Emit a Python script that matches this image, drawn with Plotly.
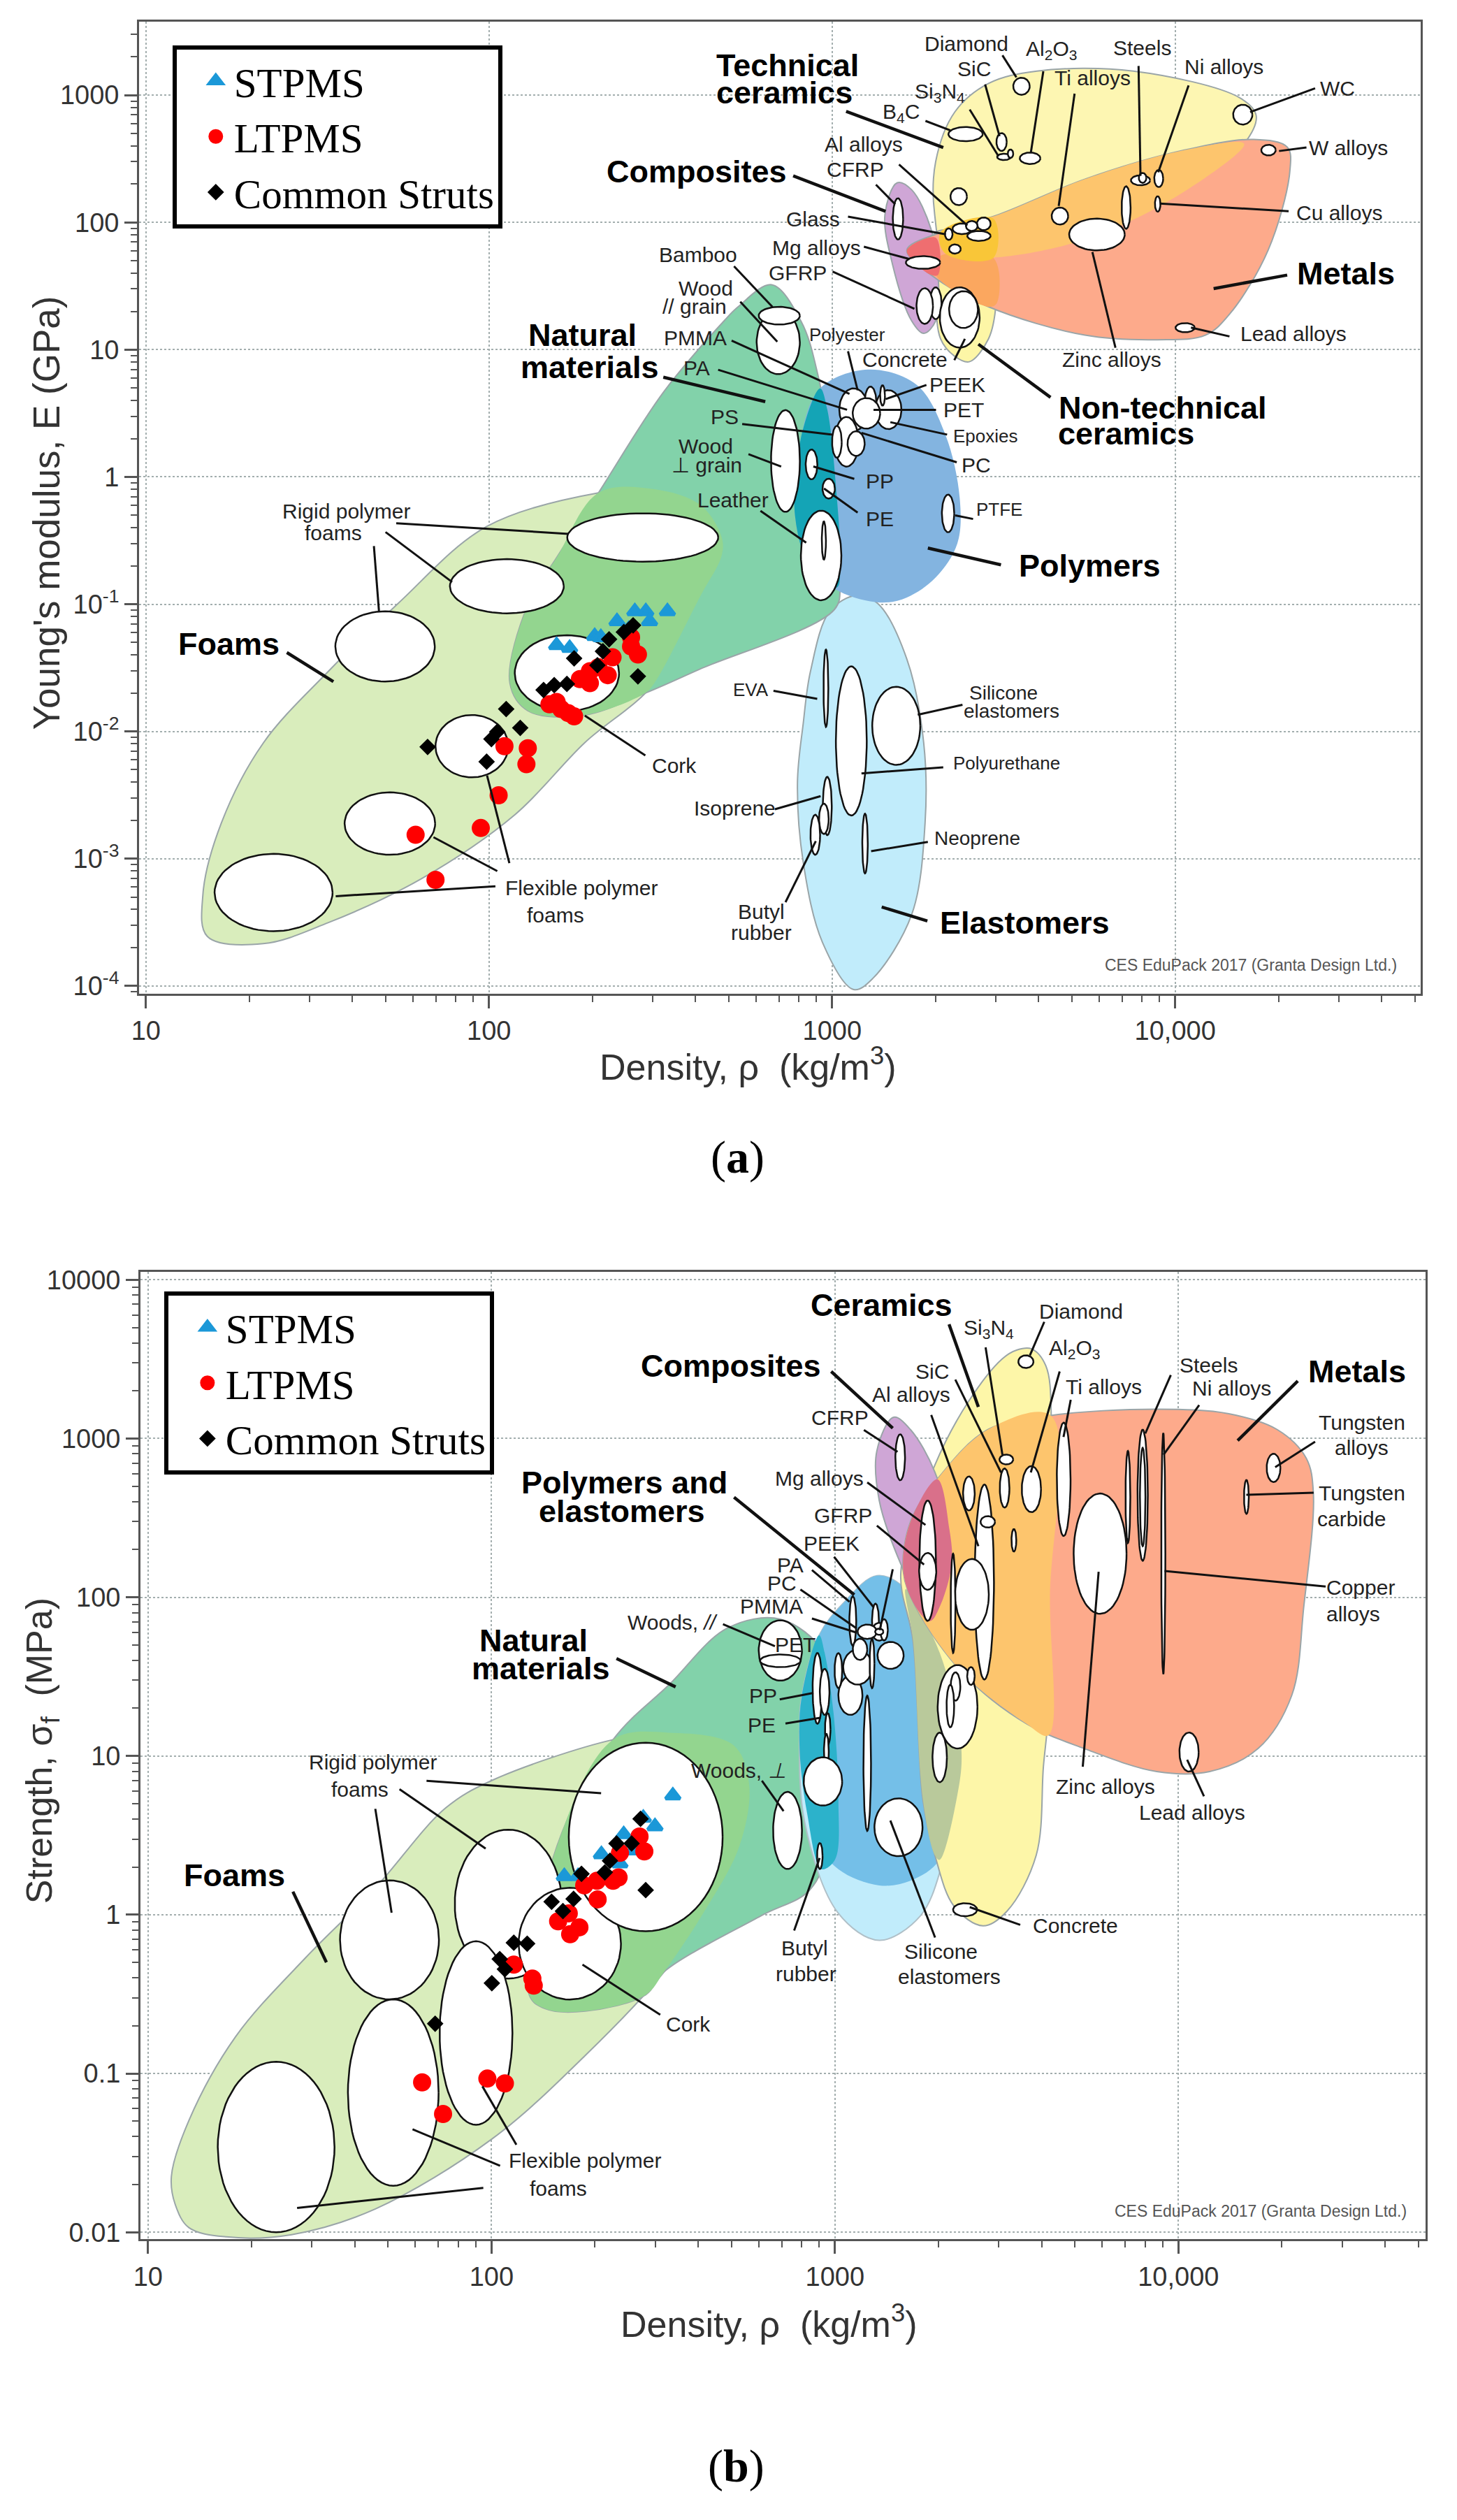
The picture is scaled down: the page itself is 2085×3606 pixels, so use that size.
import math
import numpy as np
import plotly.graph_objects as go

# ---------- data: log10(density), log10(property) ----------
# marker series, panel (a)
A_STPMS_X = [2.197,2.235,2.308,2.326,2.373,2.407,2.425,2.457,2.468,2.52]
A_STPMS_Y = [-1.323,-1.345,-1.251,-1.26,-1.135,-1.197,-1.056,-1.056,-1.135,-1.056]
A_LTPMS_X = [1.786,1.844,1.976,2.028,2.045,2.113,2.109,2.176,2.197,2.21,2.231,2.248,2.265,2.294,2.294,2.346,2.36,2.414,2.414,2.434,2.319]
A_LTPMS_Y = [-2.812,-3.166,-2.759,-2.502,-2.116,-2.132,-2.257,-1.787,-1.768,-1.824,-1.856,-1.881,-1.589,-1.621,-1.527,-1.558,-1.417,-1.26,-1.332,-1.395,-1.495]
A_STRUT_X = [1.821,1.993,2.007,2.024,2.05,2.091,2.159,2.19,2.227,2.248,2.316,2.332,2.35,2.393,2.42,2.434]
A_STRUT_Y = [-2.122,-2.238,-2.06,-2.003,-1.824,-1.972,-1.674,-1.636,-1.627,-1.426,-1.48,-1.37,-1.276,-1.219,-1.166,-1.567]
# marker series, panel (b)
B_STPMS_X = [2.528,2.442,2.476,2.385,2.32,2.415,2.374,2.212,2.252]
B_STPMS_Y = [0.751,0.61,0.557,0.507,0.381,0.405,0.323,0.243,0.243]
B_LTPMS_X = [1.798,1.859,1.988,2.039,2.065,2.119,2.123,2.194,2.225,2.229,2.256,2.27,2.309,2.307,2.354,2.37,2.374,2.431,2.445]
B_LTPMS_Y = [-1.056,-1.255,-1.032,-1.062,-0.314,-0.402,-0.446,-0.041,0.009,-0.123,-0.079,0.185,0.097,0.214,0.214,0.235,0.39,0.493,0.399]
B_STRUT_X = [1.836,2.001,2.024,2.039,2.065,2.104,2.175,2.208,2.239,2.262,2.33,2.345,2.364,2.408,2.434,2.449]
B_STRUT_Y = [-0.686,-0.431,-0.279,-0.343,-0.176,-0.182,0.082,0.023,0.1,0.258,0.267,0.34,0.449,0.449,0.604,0.155]

# material bubbles: centre x, centre y, half width, half height (decades)
A_BUBBLES = [
 (3.552,3.07,.024,.067),(3.494,2.632,.015,.07),(3.501,2.515,.02,.025),(3.52,2.54,.008,.033),
 (3.389,2.694,.05,.056),(3.577,2.504,.03,.045),(4.197,2.847,.028,.078),(4.272,2.568,.021,.042),
 (3.899,2.331,.028,.039),(3.905,2.35,.011,.039),(3.952,2.345,.013,.067),(3.949,2.145,.008,.061),
 (3.664,2.05,.024,.067),(3.857,2.117,.013,.167),(3.772,1.905,.081,.125),(3.369,2.203,.024,.067),
 (3.379,1.95,.028,.042),(3.442,1.989,.02,.05),(3.407,1.972,.017,.039),(3.428,1.894,.034,.039),
 (3.34,1.908,.011,.045),(3.358,1.791,.017,.036),(3.192,2.028,.015,.162),(3.265,1.685,.05,.05),
 (3.302,1.365,.017,.125),(3.27,1.343,.024,.14),(3.372,1.253,.058,.237),(3.383,1.315,.042,.145),
 (4.029,1.173,.028,.036),(2.843,1.058,.063,.25),(2.846,1.267,.06,.07),
 (3.164,.529,.038,.153),(3.063,.529,.042,.167),(3.112,.585,.017,.125),(3.147,.64,.007,.08),
 (3.1,.5,.04,.12),(3.042,.276,.035,.195),(3.07,.262,.025,.097),(3.014,.276,.014,.125),
 (2.864,.125,.042,.4),(2.94,.098,.017,.117),(2.99,-.092,.018,.078),(3.338,-.287,.018,.148),
 (2.968,-.617,.059,.352),(2.976,-.5,.006,.15),
 (2.448,-.476,.22,.19),(2.052,-.859,.166,.213),(1.697,-1.332,.145,.276),(2.227,-1.542,.152,.298),
 (1.95,-2.116,.106,.245),(1.711,-2.724,.132,.245),(1.372,-3.266,.172,.304),
 (2.982,-1.661,.007,.304),(3.056,-2.075,.045,.586),(3.187,-1.956,.07,.307),(2.986,-2.586,.013,.229),
 (2.976,-2.687,.014,.119),(2.951,-2.812,.014,.157),(3.096,-2.881,.008,.235)]
B_BUBBLES = [
 (1.373,-1.463,.17,.537),(1.714,-1.12,.132,.587),(1.703,-.158,.144,.375),(2.049,.067,.156,.469),
 (1.955,-.745,.106,.578),(2.228,-.182,.149,.352),(2.449,.49,.224,.594),
 (2.862,.531,.042,.243),(2.956,.37,.008,.082),
 (3.556,3.484,.022,.04),(3.494,2.688,.014,.123),(3.499,2.868,.02,.031),(3.572,2.681,.028,.145),
 (3.19,2.882,.014,.145),(3.666,2.743,.02,.357),(4.277,2.815,.02,.089),(4.198,2.632,.007,.107),
 (3.896,2.643,.015,.413),(3.896,2.632,.008,.31),(3.853,2.632,.007,.29),(3.956,2.275,.006,.759),
 (3.772,2.275,.077,.379),(4.031,1.025,.028,.123),(3.521,2.359,.007,.071),(3.39,2.654,.017,.107),
 (3.435,2.096,.028,.614),(3.445,2.475,.021,.036),(3.344,1.962,.007,.3125),(3.399,2.018,.049,.223),
 (3.27,2.23,.024,.379),(3.27,2.163,.025,.116),
 (3.357,1.31,.058,.263),(3.351,1.438,.014,.089),(3.336,1.315,.011,.134),(3.396,1.504,.011,.056),
 (3.305,.991,.021,.156),(2.841,1.665,.063,.19),(2.841,1.6,.059,.04),
 (2.949,1.426,.014,.223),(2.97,1.404,.014,.145),(2.979,1.17,.008,.1),(2.975,1.03,.007,.11),
 (2.965,.84,.056,.152),(3.094,.954,.011,.426),
 (3.162,1.634,.038,.085),(3.045,1.382,.035,.123),(3.066,1.56,.042,.11),(3.052,1.85,.01,.156),
 (3.118,1.85,.01,.11),(3.129,1.783,.021,.056),(3.094,1.783,.028,.045),(3.073,1.672,.021,.067),
 (3.01,1.538,.011,.11),(3.108,1.583,.007,.156),(3.143,1.795,.011,.067),(3.129,1.783,.012,.02),
 (3.185,.551,.07,.182),(3.379,.032,.035,.041)]

# material family envelopes, panel (a)
A_ELASTOMERS = [(3.07,-.931),(2.993,-1.056),(2.937,-1.527),(2.916,-1.934),(2.899,-2.404),(2.916,-3.031),(2.972,-3.658),(3.063,-4.028),(3.119,-3.94),(3.232,-3.439),(3.271,-2.718),(3.267,-2.091),(3.218,-1.433),(3.133,-.994),(3.07,-.931)]
A_FOAMS = [(1.179,-3.611),(1.166,-3.282),(1.22,-2.718),(1.342,-2.091),(1.532,-1.527),(1.735,-.994),(1.993,-.39),(2.319,-.125),(2.482,-.097),(2.617,-.223),(2.678,-.474),(2.678,-.618),(2.617,-.931),(2.482,-1.621),(2.278,-2.091),(2.075,-2.655),(1.803,-3.157),(1.532,-3.502),(1.342,-3.668),(1.179,-3.611)]
A_NATURAL = [(2.824,1.51),(2.726,1.337),(2.685,1.226),(2.509,.668),(2.319,-.125),(2.197,-.635),(2.115,-.994),(2.061,-1.621),(2.115,-1.84),(2.278,-1.871),(2.455,-1.699),(2.614,-1.511),(3.007,-1.041),(3.024,-.837),(3.014,-.167),(2.958,.808),(2.909,1.226),(2.824,1.51)]
A_FOAM_NAT = [(2.319,-.125),(2.482,-.097),(2.617,-.223),(2.678,-.474),(2.678,-.618),(2.617,-.931),(2.482,-1.621),(2.455,-1.699),(2.278,-1.871),(2.115,-1.84),(2.061,-1.621),(2.115,-.994),(2.197,-.635),(2.319,-.125)]
A_POLYMERS = [(3.105,.844),(3.246,.724),(3.33,.334),(3.372,-.167),(3.365,-.523),(3.302,-.79),(3.218,-.947),(3.14,-.987),(3.021,-.9),(2.937,-.712),(2.892,-.306),(2.909,.306),(2.965,.696),(3.105,.844)]
A_NAT_POLY = [(2.965,.696),(2.909,.306),(2.892,-.306),(2.937,-.712),(3.014,-.868),(3.024,-.712),(3.014,-.167),(2.986,.529),(2.965,.696)]
A_NONTECH = [(3.302,1.922),(3.471,1.811),(3.478,1.365),(3.456,1.086),(3.4,.905),(3.358,.947),(3.316,1.086),(3.302,1.504),(3.302,1.922)]
A_TECH = [(3.299,2.061),(3.302,2.479),(3.358,2.869),(3.456,3.092),(3.597,3.189),(3.878,3.189),(4.187,2.981),(4.236,2.841),(4.201,2.618),(4.018,2.228),(3.737,1.866),(3.456,1.721),(3.33,1.755),(3.299,2.061)]
A_COMPOSITES = [(3.154,2.061),(3.19,2.312),(3.232,2.256),(3.288,1.95),(3.309,1.588),(3.302,1.226),(3.267,1.128),(3.232,1.226),(3.176,1.671),(3.154,2.061)]
A_METALS = [(3.218,1.783),(3.316,1.922),(3.485,2.061),(3.737,2.34),(4.018,2.563),(4.229,2.652),(4.327,2.591),(4.334,2.396),(4.271,1.783),(4.159,1.281),(4.088,1.114),(3.948,1.078),(3.737,1.114),(3.456,1.337),(3.288,1.588),(3.218,1.783)]
A_TECH_MET = [(3.316,1.922),(3.485,2.061),(3.737,2.34),(4.018,2.563),(4.201,2.618),(4.018,2.228),(3.737,1.866),(3.456,1.721),(3.33,1.755),(3.316,1.922)]
A_NT_MET = [(3.309,1.727),(3.47,1.721),(3.48,1.365),(3.456,1.337),(3.302,1.588),(3.309,1.727)]
A_TRIPLE = [(3.316,1.922),(3.47,2.03),(3.47,1.721),(3.33,1.755),(3.316,1.922)]
A_COMP_MET = [(3.218,1.783),(3.302,1.88),(3.309,1.588),(3.288,1.588),(3.24,1.685),(3.218,1.783)]

# material family envelopes, panel (b)
B_FOAMS = [(1.079,-1.824),(1.068,-1.648),(1.119,-1.296),(1.255,-.768),(1.459,-.27),(1.662,.17),(1.866,.672),(2.001,.846),(2.354,1.103),(2.517,1.147),(2.704,1.069),(2.75,.824),(2.722,.434),(2.612,-.006),(2.503,-.358),(2.273,-.886),(2.001,-1.413),(1.662,-1.853),(1.418,-2.015),(1.228,-2.029),(1.119,-1.971),(1.079,-1.824)]
B_NATURAL = [(2.841,1.862),(2.687,1.806),(2.517,1.449),(2.354,1.103),(2.191,.434),(2.11,-.504),(2.157,-.592),(2.273,-.607),(2.449,-.504),(2.503,-.358),(2.785,-.006),(2.926,.155),(2.982,.434),(2.996,1.27),(2.968,1.65),(2.841,1.862)]
B_FOAM_NAT = [(2.354,1.103),(2.517,1.147),(2.704,1.069),(2.75,.824),(2.722,.434),(2.612,-.006),(2.503,-.358),(2.449,-.504),(2.273,-.607),(2.157,-.592),(2.11,-.504),(2.191,.434),(2.354,1.103)]
B_ELASTOMERS = [(3.122,2.136),(3.206,2.051),(3.305,1.65),(3.368,1.047),(3.347,.698),(3.312,.317),(3.249,-.006),(3.129,-.161),(3.01,.009),(2.912,.581),(2.897,1.158),(2.904,1.382),(2.954,1.761),(3.024,1.962),(3.122,2.136)]
B_POLYMERS = [(3.122,2.136),(3.206,2.051),(3.305,1.65),(3.368,1.047),(3.354,.727),(3.305,.346),(3.22,.214),(3.129,.185),(3.01,.287),(2.94,.493),(2.897,1.158),(2.904,1.382),(2.954,1.761),(3.024,1.962),(3.122,2.136)]
B_NAT_POLY = [(2.954,1.761),(2.904,1.382),(2.897,1.047),(2.919,.639),(2.961,.287),(3.0,.346),(3.01,.727),(2.996,1.27),(2.97,1.65),(2.954,1.761)]
B_CERAMICS = [(3.572,3.565),(3.614,3.458),(3.631,3.056),(3.621,1.27),(3.607,.935),(3.586,.375),(3.501,.023),(3.431,-.07),(3.347,.053),(3.291,.375),(3.256,.727),(3.228,1.717),(3.192,2.163),(3.291,2.833),(3.389,3.234),(3.487,3.502),(3.53,3.558),(3.572,3.565)]
B_CER_POLY = [(3.206,2.051),(3.305,1.65),(3.368,1.047),(3.354,.727),(3.305,.346),(3.291,.375),(3.256,.727),(3.228,1.717),(3.206,2.051)]
B_METALS = [(3.298,2.743),(3.445,3.056),(3.628,3.145),(3.937,3.185),(4.147,3.156),(4.288,3.056),(4.372,2.877),(4.393,2.654),(4.365,1.94),(4.33,1.382),(4.232,1.047),(4.091,.902),(3.937,.902),(3.726,1.047),(3.558,1.203),(3.375,1.516),(3.235,1.94),(3.199,2.163),(3.22,2.475),(3.298,2.743)]
B_CER_MET = [(3.298,2.743),(3.445,3.056),(3.628,3.145),(3.626,2.0),(3.621,1.13),(3.558,1.203),(3.375,1.516),(3.235,1.94),(3.199,2.163),(3.22,2.475),(3.298,2.743)]
B_COMPOSITES = [(3.171,3.134),(3.122,2.922),(3.129,2.609),(3.192,2.208),(3.277,1.85),(3.305,1.94),(3.34,2.208),(3.333,2.431),(3.291,2.788),(3.22,3.056),(3.171,3.134)]
B_COMP_MET = [(3.298,2.743),(3.333,2.431),(3.34,2.208),(3.305,1.94),(3.277,1.85),(3.235,1.94),(3.199,2.163),(3.22,2.475),(3.298,2.743)]

A_YTICKS = [1000,100,10,1,0.1,0.01,0.001,0.0001]
A_YTEXT = ["1000","100","10","1","10<sup>-1</sup>","10<sup>-2</sup>","10<sup>-3</sup>","10<sup>-4</sup>"]
B_YTICKS = [10000,1000,100,10,1,0.1,0.01]
B_YTEXT = ["10000","1000","100","10","1","0.1","0.01"]
XTICKS = [10,100,1000,10000]
XTEXT = ["10","100","1000","10,000"]

# ---------- page geometry ----------
W, H = 2069, 3590
OFF = 15
def fx(x): return (x-OFF)/W
def fy(y): return 1-(y-OFF)/H
Z = {1:(0,1.493,0,1.96),2:(1000,1.445,0,1.96),3:(0,1.493,780,1.742),4:(1000,1.445,780,1.742),
     5:(0,1.493,1800,1.96),6:(1000,1.445,1800,1.96),7:(0,1.493,2550,1.485),8:(1000,1.445,2550,1.485)}
def pz(z,x,y):
    ox,sx,oy,sy = Z[z]
    return ox+x/sx, oy+y/sy

fig = go.Figure()
BLUE, RED = "#1b98d8", "#ff0000"

def region(pts, color, ax, line="#9aa5a8", lw=2):
    fig.add_trace(go.Scatter(x=[10**p[0] for p in pts], y=[10**p[1] for p in pts], mode="lines",
        line=dict(color=line if line else color, width=lw if line else 0, shape="spline", smoothing=1),
        fill="toself", fillcolor=color, hoverinfo="skip", showlegend=False, xaxis="x"+ax, yaxis="y"+ax))

THETA = np.linspace(0, 2*math.pi, 73)
def bubble(b, ax):
    cx, cy, rx, ry = b
    fig.add_trace(go.Scatter(x=10**(cx+rx*np.cos(THETA)), y=10**(cy+ry*np.sin(THETA)), mode="lines",
        line=dict(color="#111111", width=2.5), fill="toself", fillcolor="white",
        hoverinfo="skip", showlegend=False, xaxis="x"+ax, yaxis="y"+ax))

def markers(lx, ly, name, sym, color, size, lw, ax, legend):
    fig.add_trace(go.Scatter(x=[10**v for v in lx], y=[10**v for v in ly], mode="markers", name=name,
        marker=dict(symbol=sym, color=color, size=size, line=dict(color=color, width=lw)),
        xaxis="x"+ax, yaxis="y"+ax, legend=legend))

# panel (a)
region(A_ELASTOMERS, "#c1ecfb", "")
region(A_FOAMS, "#d9edbc", "")
region(A_NATURAL, "#82d2aa", "")
region(A_FOAM_NAT, "#93d58f", "", None)
region(A_POLYMERS, "#83b4e0", "", None)
region(A_NAT_POLY, "#14a4b6", "", None)
region(A_TECH, "#fdf6b2", "")
region(A_NONTECH, "#fdf6a6", "")
region(A_COMPOSITES, "#cfa6d6", "")
region(A_METALS, "#fdaa8b", "")
region(A_TECH_MET, "#fdc56d", "", None)
region(A_NT_MET, "#fba75f", "", None)
region(A_TRIPLE, "#f9c638", "", None)
region(A_COMP_MET, "#ef6e70", "", None)
for b in A_BUBBLES: bubble(b, "")
markers(A_STPMS_X, A_STPMS_Y, "STPMS", "triangle-up", BLUE, 18, 5, "", "legend")
markers(A_LTPMS_X, A_LTPMS_Y, "LTPMS", "circle", RED, 21, 5, "", "legend")
markers(A_STRUT_X, A_STRUT_Y, "Common Struts", "diamond", "#000000", 15, 3, "", "legend")

# panel (b)
region(B_FOAMS, "#d9edbc", "2")
region(B_NATURAL, "#82d2aa", "2")
region(B_FOAM_NAT, "#93d58f", "2", None)
region(B_ELASTOMERS, "#c1ecfb", "2", "#b0c0c8")
region(B_POLYMERS, "#74bfe8", "2", None)
region(B_NAT_POLY, "#2cb2cb", "2", None)
region(B_CERAMICS, "#fdf6a8", "2")
region(B_CER_POLY, "#b9c99b", "2", None)
region(B_COMPOSITES, "#cfa6d6", "2")
region(B_METALS, "#fdaa8b", "2")
region(B_CER_MET, "#fdc56d", "2", None)
region(B_COMP_MET, "#d9708a", "2", None)
for b in B_BUBBLES: bubble(b, "2")
markers(B_STPMS_X, B_STPMS_Y, "STPMS", "triangle-up", BLUE, 18, 5, "2", "legend2")
markers(B_LTPMS_X, B_LTPMS_Y, "LTPMS", "circle", RED, 21, 5, "2", "legend2")
markers(B_STRUT_X, B_STRUT_Y, "Common Struts", "diamond", "#000000", 15, 3, "2", "legend2")

# ---------- leader lines (decoration) ----------
shapes = []
def leaders(z, items, width=3):
    for x0,y0,x1,y1 in items:
        a = pz(z,x0,y0); b = pz(z,x1,y1)
        shapes.append(dict(type="line", xref="paper", yref="paper", x0=fx(a[0]), y0=fy(a[1]), x1=fx(b[0]), y1=fy(b[1]),
                           line=dict(color="#111111", width=width), layer="above"))

leaders(2, [(633,150,662,212),(597,232,627,378),(718,195,692,425),(565,303,625,435),(473,335,525,362),
 (783,258,750,575),(916,180,920,490),(1020,235,957,480),(1283,243,1148,310),(1265,410,1208,420),
 (418,458,560,630),(370,515,410,570),(312,605,515,655),(345,690,440,725),(280,760,450,865),
 (1228,590,960,568),(1105,943,1025,918),(868,975,820,705),(533,1010,555,950),(75,745,155,860),
 (88,845,165,958),(70,955,315,1105),(42,1037,310,1150),(312,985,332,1095),(475,1080,390,1120),
 (495,1150,365,1150),(518,1220,400,1185),(538,1298,340,1215),(92,1190,280,1220),(105,1275,173,1310),
 (325,1345,240,1310),(332,1440,262,1372),(572,1458,535,1448),(130,1435,225,1525)])
leaders(2, [(308,308,510,410),(198,490,390,590),(1225,770,1072,808),(733,1115,583,965),(-72,1058,140,1127)], 4.5)
leaders(4, [(478,10,630,52),(382,910,477,945)], 4.5)
leaders(1, [(845,1470,1215,1500),(822,1495,965,1636)])
leaders(3, [(797,5,808,170),(1250,430,1380,530),(1040,580,1088,800),(925,735,1062,820),(715,883,1058,858)])
leaders(3, [(610,272,710,345)], 4.5)
leaders(4, [(157,368,248,388),(457,428,550,403),(340,575,510,560),(160,665,255,632),(360,770,478,747),(182,898,245,745)])

leaders(6, [(598,267,633,570),(720,195,690,290),(752,335,692,620),(535,358,630,620),(485,458,583,828),
 (775,415,760,520),(983,345,930,510),(1042,430,968,570),(1283,533,1200,605),(1280,677,1140,683),
 (1305,942,970,898),(345,500,415,562),(352,648,473,768),(372,770,470,880),(283,858,365,1000),
 (405,893,378,1065),(237,895,315,985),(213,950,330,1060),(237,1032,330,1072),(52,1048,160,1110),
 (170,1260,240,1242),(182,1328,255,1312),(800,1450,833,900)])
leaders(6, [(522,202,583,435),(1247,362,1122,530),(277,335,405,495),(75,690,325,965)], 4.5)
leaders(8, [(1017,-30,1052,48),(133,15,178,80),(200,335,253,180),(400,100,493,350),(565,285,670,323)])
leaders(5, [(910,1490,1285,1525)])
leaders(5, [(1318,1145,1445,1225)], 4.5)
leaders(7, [(852,33,1037,160),(800,75,835,297),(1245,408,1412,515),(880,760,1068,838),(1030,668,1103,793),(632,928,1032,885)])
leaders(7, [(623,252,695,403)], 4.5)

# ---------- text ----------
ann = []
SANS = "Liberation Sans, Arial, sans-serif"
def lab(z, x, y, t, size=30, bold=False, color="#222222", angle=0, family=SANS):
    a = pz(z,x,y)
    if bold:
        t = "<b>"+t+"</b>"; color = "#000000"
    ann.append(dict(xref="paper", yref="paper", x=fx(a[0]), y=fy(a[1]), text=t, showarrow=False,
                    xanchor="center", yanchor="middle", textangle=angle,
                    font=dict(family=family, size=size, color=color)))

for z, items in {
 2:[("Diamond",558,118),("Al<sub>2</sub>O<sub>3</sub>",735,135),("SiC",574,188),("Si<sub>3</sub>N<sub>4</sub>",503,255),
    ("B<sub>4</sub>C",422,312),("Ti alloys",820,213),("Steels",923,128),("Ni alloys",1093,183),("WC",1330,243),
    ("W alloys",1352,410),("Al alloys",345,402),("CFRP",327,472),("Glass",240,612),("Mg alloys",247,692),
    ("GFRP",207,763),("Cu alloys",1333,595),("Lead alloys",1238,935),("Zinc alloys",860,1008),("Concrete",430,1008),
    ("PEEK",540,1080),("PET",552,1150),("PC",578,1305),("PP",378,1352),("PE",378,1458),
    ("Bamboo",0,712),("Wood",16,808),("// grain",-7,858),("PMMA",-5,948),("PA",-3,1032),("PS",55,1170),
    ("Wood",16,1253),("⊥ grain",19,1305),("Leather",73,1405)],
 1:[("Rigid polymer",738,1437),("foams",710,1497)],
 3:[("Cork",1442,555),("Flexible polymer",1242,862),("foams",1187,930)],
 4:[("Isoprene",76,663),("Butyl",132,922),("rubber",132,975)],
 6:[("Si<sub>3</sub>N<sub>4</sub>",605,215),("Diamond",797,165),("Al<sub>2</sub>O<sub>3</sub>",783,272),("SiC",487,335),
    ("Al alloys",443,400),("Ti alloys",843,378),("Steels",1062,317),("Ni alloys",1110,382),("Tungsten",1380,478),
    ("alloys",1380,550),("Tungsten",1380,678),("carbide",1358,752),("Copper",1378,945),("alloys",1362,1020),
    ("CFRP",295,465),("Mg alloys",252,637),("GFRP",302,742),("PEEK",278,820),("PA",192,882),("PC",175,933),
    ("PMMA",153,998),("PET",202,1105),("PP",135,1250),("PE",132,1332),("Zinc alloys",848,1507),
    ("Woods, <i>//</i>",-52,1042),("Woods, <i>⊥</i>",85,1460)],
 5:[("Rigid polymer",795,1437),("foams",767,1515)],
 7:[("Cork",1472,535),("Flexible polymer",1250,827),("foams",1193,887)],
 8:[("Lead alloys",1027,82),("Butyl",222,372),("rubber",225,428),("Silicone",505,380),("elastomers",523,433),("Concrete",785,325)],
}.items():
    for t,x,y in items:
        lab(z,x,y,t)

for z,x,y,t,s in [(2,310,938,"Polyester",26),(2,598,1225,"Epoxies",26),(2,627,1432,"PTFE",26),(4,110,365,"EVA",26),
                  (4,635,373,"Silicone",28),(4,652,418,"elastomers",28),(4,642,550,"Polyurethane",26),(4,580,737,"Neoprene",28)]:
    lab(z,x,y,t,s)
for z,x,y,t in [(2,187,178,"Technical"),(2,180,255,"ceramics"),(2,-2,478,"Composites"),(2,1347,765,"Metals"),(2,966,1145,"Non-technical"),
                (2,890,1218,"ceramics"),(1,1245,940,"Natural"),(1,1260,1030,"materials"),(3,485,250,"Foams"),
                (4,815,55,"Polymers"),(4,680,950,"Elastomers"),(6,382,148,"Ceramics"),(6,1370,335,"Metals"),
                (6,69,320,"Composites"),(5,1335,648,"Polymers and"),(5,1330,730,"elastomers"),(5,1140,1095,"Natural"),
                (5,1155,1172,"materials"),(7,498,217,"Foams")]:
    lab(z,x,y,t,45,True)
lab(4,1150,1055,"CES EduPack 2017 (Granta Design Ltd.)",23,False,"#555555")
lab(8,1170,935,"CES EduPack 2017 (Granta Design Ltd.)",23,False,"#555555")
a_title = dict(xref="paper", yref="paper", showarrow=False, xanchor="center", yanchor="middle")
def title(px, py, t, size, angle=0, color="#333333", family=SANS):
    ann.append(dict(a_title, x=fx(px), y=fy(py), text=t, textangle=angle, font=dict(family=family, size=size, color=color)))
title(63, 735, "Young's modulus, E (GPa)", 53, -90)
title(1072, 1529, "Density, ρ  (kg/m<sup>3</sup>)", 52)
title(57, 2517, "Strength, σ<sub>f</sub>  (MPa)", 52, -90)
title(1102, 3338, "Density, ρ  (kg/m<sup>3</sup>)", 52)
title(1057, 1663, "(<b>a</b>)", 66, 0, "#000000", "Liberation Serif, serif")
title(1055, 3547, "(<b>b</b>)", 66, 0, "#000000", "Liberation Serif, serif")

# ---------- axes ----------
AXC = "#555555"
def axis(rng, domain, tv, tt, anchor):
    return dict(type="log", range=rng, domain=domain, tickmode="array", tickvals=tv, ticktext=tt,
        ticks="outside", ticklen=18, tickwidth=2.5, tickcolor=AXC, showline=True, mirror=True,
        linecolor=AXC, linewidth=3, showgrid=True, gridcolor="#a3aeae", gridwidth=2, griddash="dot",
        zeroline=False, anchor=anchor, tickfont=dict(family=SANS, size=38, color="#333333"),
        minor=dict(ticks="outside", ticklen=9, tickwidth=2, tickcolor=AXC, dtick="D1", showgrid=False))

LEG = dict(xanchor="left", yanchor="top", bgcolor="white", bordercolor="#000000", borderwidth=6,
           font=dict(family="Liberation Serif, serif", size=59, color="#000000"), itemsizing="trace",
           itemclick=False, itemwidth=42, indentation=30, entrywidth=442, entrywidthmode="pixels")
fig.update_layout(
    width=W, height=H, margin=dict(l=0, r=0, t=0, b=0), autosize=False,
    paper_bgcolor="white", plot_bgcolor="white", hovermode=False,
    xaxis=axis([0.98,4.716], [fx(196),fx(2040)], XTICKS, XTEXT, "y"),
    yaxis=axis([-4.06,3.578], [fy(1427),fy(28)], A_YTICKS, A_YTEXT, "x"),
    xaxis2=axis([0.978,4.72], [fx(198),fx(2047)], XTICKS, XTEXT, "y2"),
    yaxis2=axis([-2.044,4.048], [fy(3220),fy(1828)], B_YTICKS, B_YTEXT, "x2"),
    shapes=shapes, annotations=ann,
    legend=dict(LEG, x=fx(244), y=fy(62)),
    legend2=dict(LEG, x=fx(232), y=fy(1856)),
)
fig.write_html("out.html")
